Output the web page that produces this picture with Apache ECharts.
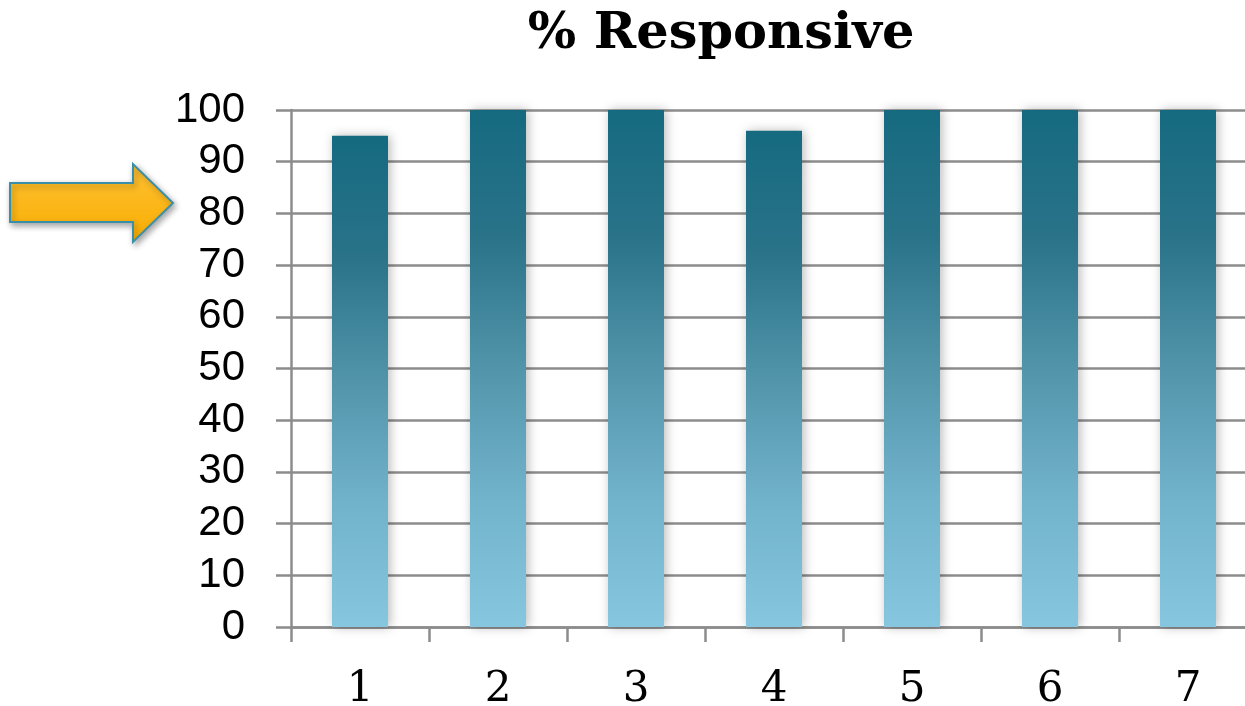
<!DOCTYPE html>
<html>
<head>
<meta charset="utf-8">
<script src="https://cdn.jsdelivr.net/npm/echarts@6/dist/echarts.min.js"></script>
<style>
html,body{margin:0;padding:0;background:#fff;}
#chart{width:1245px;height:706px;}
</style>
</head>
<body>
<div id="chart"></div>
<script>
const categories = ['1', '2', '3', '4', '5', '6', '7'];
const responsive = [95, 100, 100, 96, 100, 100, 100];
const yTicks = [0, 10, 20, 30, 40, 50, 60, 70, 80, 90, 100];
const titleText = '% Responsive';

const chart = echarts.init(document.getElementById('chart'), null, {renderer: 'canvas'});
const gridColor = '#8c8c8c';

chart.setOption({
  backgroundColor: '#ffffff',
  animation: false,
  title: {
    text: titleText,
    left: 716,
    textAlign: 'center',
    top: 4,
    textStyle: {
      fontFamily: 'DejaVu Serif',
      fontWeight: 'bold',
      fontSize: 51,
      color: '#000'
    }
  },
  grid: {left: 291, top: 110, width: 966, height: 517, outerBoundsMode: 'none', containLabel: false},
  xAxis: {
    type: 'category',
    data: categories,
    boundaryGap: true,
    axisLine: {show: true, lineStyle: {color: gridColor, width: 2.5}},
    axisTick: {show: true, length: 15, lineStyle: {color: gridColor, width: 2.5}},
    axisLabel: {
      margin: 42,
      fontFamily: 'DejaVu Serif',
      fontSize: 42,
      color: '#000'
    },
    splitLine: {show: false}
  },
  yAxis: {
    type: 'value',
    min: yTicks[0],
    max: yTicks[yTicks.length - 1],
    interval: 10,
    axisLine: {show: true, lineStyle: {color: gridColor, width: 2.5}},
    axisTick: {show: true, length: 15, lineStyle: {color: gridColor, width: 2.5}},
    axisLabel: {
      margin: 46,
      fontFamily: 'Liberation Sans',
      fontSize: 42,
      color: '#000'
    },
    splitLine: {show: true, lineStyle: {color: gridColor, width: 2.5}}
  },
  series: [{
    type: 'bar',
    data: responsive,
    barWidth: 56,
    itemStyle: {
      color: new echarts.graphic.LinearGradient(0, 0, 0, 1, [
        {offset: 0, color: '#156a80'},
        {offset: 0.25, color: '#2a7389'},
        {offset: 0.5, color: '#5295aa'},
        {offset: 0.75, color: '#72b3cc'},
        {offset: 1, color: '#86c6df'}
      ]),
      shadowBlur: 10,
      shadowColor: 'rgba(0,0,0,0.28)',
      shadowOffsetX: 2,
      shadowOffsetY: 0
    }
  }],
  graphic: [{
    type: 'polygon',
    shape: {
      points: [[10, 183], [133, 183], [133, 164], [173, 203], [133, 242], [133, 222], [10, 222]]
    },
    style: {
      fill: new echarts.graphic.LinearGradient(0, 0, 0, 1, [
        {offset: 0, color: '#ffc235'},
        {offset: 1, color: '#f8ad00'}
      ]),
      stroke: '#3a8fa8',
      lineWidth: 2,
      shadowBlur: 6,
      shadowColor: 'rgba(0,0,0,0.35)',
      shadowOffsetX: 2,
      shadowOffsetY: 3
    }
  }]
});
</script>
</body>
</html>
